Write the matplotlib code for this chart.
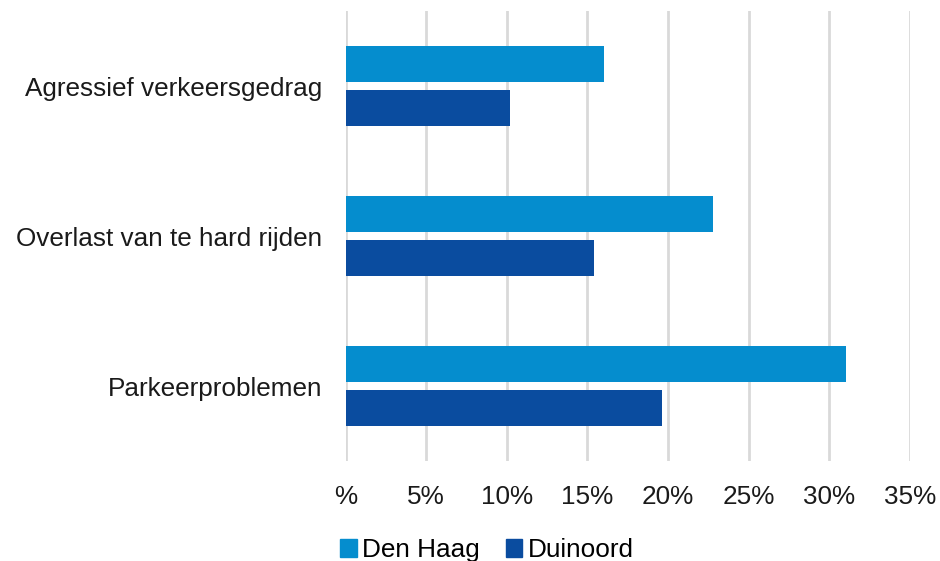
import numpy as np
import matplotlib.pyplot as plt
from matplotlib.patches import Patch

plt.rcParams['font.family'] = ['Liberation Sans', 'DejaVu Sans']

categories = ["Agressief verkeersgedrag", "Overlast van te hard rijden", "Parkeerproblemen"]
den_haag = [16.0, 22.8, 31.0]
duinoord = [10.2, 15.4, 19.6]
series_names = ["Den Haag", "Duinoord"]
colors = ["#058DCE", "#0A4C9F"]
tick_values = [0, 5, 10, 15, 20, 25, 30, 35]
tick_labels = ["%", "5%", "10%", "15%", "20%", "25%", "30%", "35%"]

fig = plt.figure(figsize=(9.4, 5.61), dpi=100)
ax = fig.add_axes([0.3676, 0.178, 0.6005, 0.802])

y = np.arange(len(categories))
h = 0.237
ax.barh(y - 0.147, den_haag, height=h, color=colors[0], zorder=3)
ax.barh(y + 0.147, duinoord, height=h, color=colors[1], zorder=3)

ax.set_xlim(0, 35)
ax.set_ylim(2.5, -0.5)
ax.set_xticks(tick_values)
ax.set_xticklabels(tick_labels)
ax.set_yticks(y)
ax.set_yticklabels(categories)
ax.tick_params(axis='x', length=0, pad=17, labelsize=18.8, labelcolor='#1a1a1a')
ax.tick_params(axis='y', length=0, pad=17, labelsize=18.8, labelcolor='#1a1a1a')
ax.grid(axis='x', color='#D9D9D9', linewidth=2, zorder=0)
for s in ax.spines.values():
    s.set_visible(False)

handles = [Patch(color=c, label=n) for c, n in zip(colors, series_names)]
fig.legend(handles=handles, loc='lower left', bbox_to_anchor=(0.337, -0.044), ncol=2,
           frameon=False, fontsize=18.8, handlelength=0.63, handleheight=0.63,
           handletextpad=0.2, columnspacing=1.0)

fig.savefig("out.png", dpi=100)
